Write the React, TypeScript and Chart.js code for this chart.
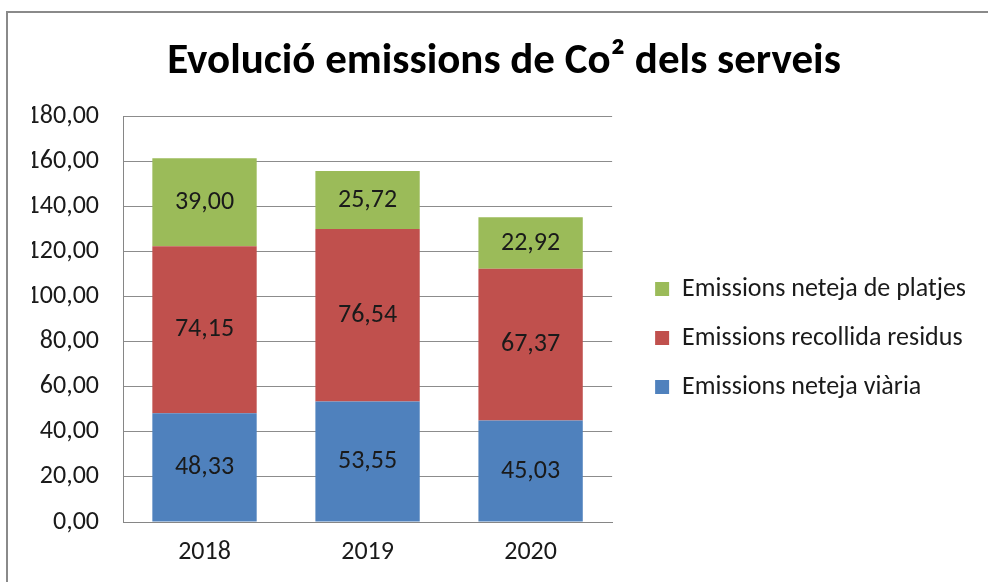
import { useEffect, useRef } from "react";
import { Chart, registerables } from "chart.js";

Chart.register(...registerables);

const categories = ["2018", "2019", "2020"];
const netejaViaria = [48.33, 53.55, 45.03];
const recollidaResidus = [74.15, 76.54, 67.37];
const netejaPlatjes = [39.0, 25.72, 22.92];
const seriesNames = [
  "Emissions neteja viària",
  "Emissions recollida residus",
  "Emissions neteja de platjes",
];
const seriesColors = ["#4F81BD", "#C0504D", "#9BBB59"];
const yMin = 0;
const yMax = 180;
const yStep = 20;
const titleText = "Evolució emissions de Co² dels serveis";

const FONT = "Carlito, Calibri, Lato, 'Open Sans', sans-serif";
const fmt = (v: number) => v.toFixed(2).replace(".", ",");

const PAD_LEFT = 32;
const PAD_RIGHT = 12;
const AXIS_RIGHT = 123;
const TEXT_SIZE = 26;

const framePlugin = {
  id: "frame",
  beforeDraw(chart: any) {
    const { ctx, width, height } = chart;
    ctx.save();
    ctx.fillStyle = "#ffffff";
    ctx.fillRect(0, 0, width, height);
    ctx.strokeStyle = "#8a8a8a";
    ctx.lineWidth = 2;
    ctx.beginPath();
    ctx.moveTo(7, height);
    ctx.lineTo(7, 12);
    ctx.lineTo(width, 12);
    ctx.stroke();
    ctx.restore();
  },
};

const valueLabels = {
  id: "valueLabels",
  afterDatasetsDraw(chart: any) {
    const { ctx } = chart;
    ctx.save();
    ctx.font = `${TEXT_SIZE}px ${FONT}`;
    ctx.fillStyle = "#1a1a1a";
    ctx.textAlign = "center";
    ctx.textBaseline = "middle";
    chart.data.datasets.forEach((ds: any, i: number) => {
      const meta = chart.getDatasetMeta(i);
      meta.data.forEach((bar: any, j: number) => {
        const v = ds.data[j];
        const y = (bar.y + bar.base) / 2;
        ctx.fillText(fmt(v), bar.x, y);
      });
    });
    ctx.restore();
  },
};

export default function App() {
  const ref = useRef<HTMLCanvasElement | null>(null);
  useEffect(() => {
    document.body.style.margin = "0";
    if (!ref.current) return;
    const chart = new Chart(ref.current, {
      type: "bar",
      data: {
        labels: categories,
        datasets: [
          { label: seriesNames[0], data: netejaViaria, backgroundColor: seriesColors[0], yAxisID: "y" },
          { label: seriesNames[1], data: recollidaResidus, backgroundColor: seriesColors[1], yAxisID: "y" },
          { label: seriesNames[2], data: netejaPlatjes, backgroundColor: seriesColors[2], yAxisID: "y" },
        ],
      },
      options: {
        responsive: false,
        animation: false,
        devicePixelRatio: 1,
        layout: { padding: { left: PAD_LEFT, right: PAD_RIGHT, top: 0, bottom: 0 } },
        datasets: { bar: { categoryPercentage: 1, barPercentage: 0.64 } },
        scales: {
          x: {
            stacked: true,
            grid: { display: false, drawTicks: false },
            border: { display: true, color: "#868686", width: 1 },
            ticks: { padding: 15, color: "#1a1a1a", font: { family: FONT, size: TEXT_SIZE } },
            afterFit: (s: any) => {
              s.height = 60;
            },
          },
          y: {
            stacked: true,
            min: yMin,
            max: yMax,
            grid: { color: "#8c8c8c", lineWidth: 1, drawTicks: false },
            border: { display: true, color: "#868686", width: 1 },
            ticks: {
              stepSize: yStep,
              padding: 24,
              color: "#1a1a1a",
              font: { family: FONT, size: TEXT_SIZE },
              callback: (v: any) => fmt(Number(v)),
            },
            afterFit: (s: any) => {
              s.width = AXIS_RIGHT - PAD_LEFT;
            },
          },
          gap: {
            type: "linear",
            position: "right",
            display: true,
            grid: { display: false, drawTicks: false },
            border: { display: false },
            ticks: { display: false },
            afterFit: (s: any) => {
              s.width = 20;
            },
          },
        },
        plugins: {
          title: {
            display: true,
            text: titleText,
            color: "#000000",
            font: { family: FONT, size: 43, weight: "bold" },
            padding: { top: 36, bottom: 29 },
          },
          legend: {
            display: true,
            position: "right",
            align: "start",
            reverse: true,
            maxWidth: 420,
            title: { display: true, text: "", font: { size: 10, lineHeight: 1.2 }, padding: { top: 241, bottom: 0 } },
            labels: {
              boxWidth: 14,
              boxHeight: 14,
              padding: 23,
              color: "#1a1a1a",
              font: { family: FONT, size: TEXT_SIZE },
            },
          },
          tooltip: { enabled: false },
        },
      },
      plugins: [framePlugin, valueLabels],
    } as any);
    return () => chart.destroy();
  }, []);
  return <canvas ref={ref} width={988} height={582} style={{ display: "block" }} />;
}
